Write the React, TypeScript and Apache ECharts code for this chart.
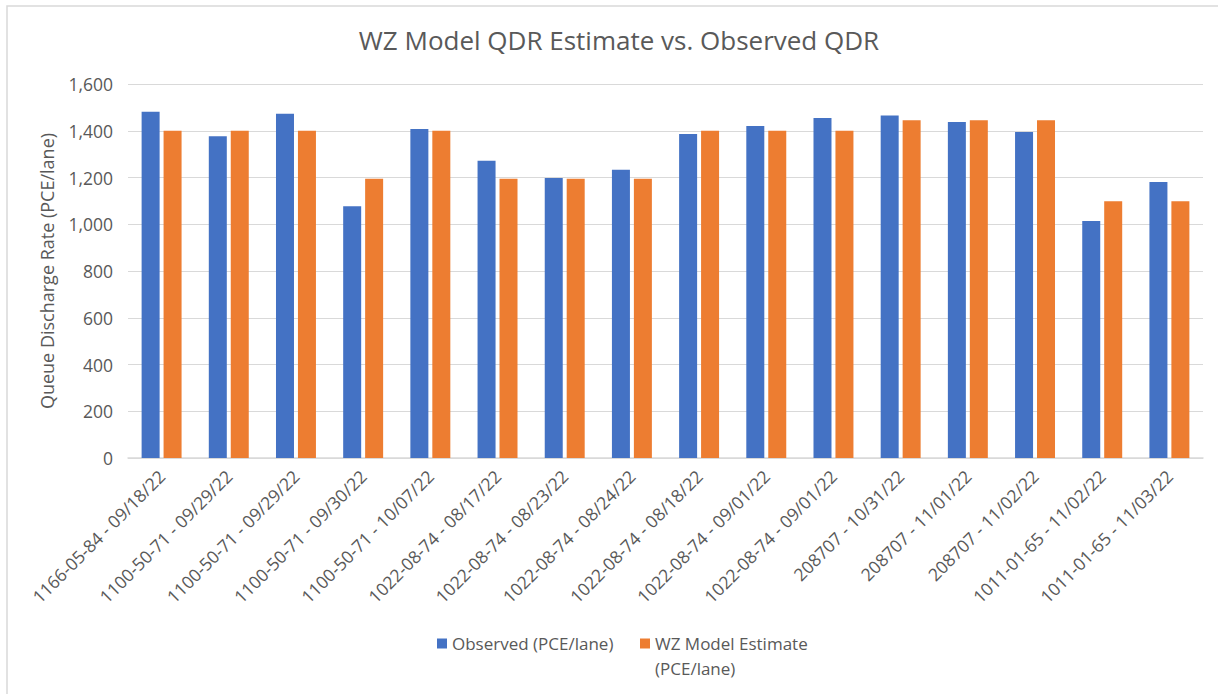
import React, { useEffect, useRef } from "react";
import * as echarts from "echarts";

const categories = [
  "1166-05-84 - 09/18/22",
  "1100-50-71 - 09/29/22",
  "1100-50-71 - 09/29/22",
  "1100-50-71 - 09/30/22",
  "1100-50-71 - 10/07/22",
  "1022-08-74 - 08/17/22",
  "1022-08-74 - 08/23/22",
  "1022-08-74 - 08/24/22",
  "1022-08-74 - 08/18/22",
  "1022-08-74 - 09/01/22",
  "1022-08-74 - 09/01/22",
  "208707 - 10/31/22",
  "208707 - 11/01/22",
  "208707 - 11/02/22",
  "1011-01-65 - 11/02/22",
  "1011-01-65 - 11/03/22",
];

const observed = [1481, 1376, 1473, 1077, 1408, 1272, 1198, 1233, 1386, 1420, 1455, 1465, 1437, 1395, 1014, 1181];
const wzModel = [1400, 1400, 1400, 1195, 1400, 1195, 1195, 1195, 1400, 1400, 1400, 1445, 1445, 1445, 1098, 1098];

const seriesNames = ["Observed (PCE/lane)", "WZ Model Estimate (PCE/lane)"];
const legendLines = ["WZ Model Estimate", "(PCE/lane)"];
const title = "WZ Model QDR Estimate vs. Observed QDR";
const yAxisTitle = "Queue Discharge Rate (PCE/lane)";

const FONT = "'Open Sans', 'Noto Sans', sans-serif";
const GREY = "#595959";

export default function App() {
  const ref = useRef<HTMLDivElement>(null);
  useEffect(() => {
    if (!ref.current) return;
    const chart = echarts.init(ref.current, undefined, { renderer: "svg" });
    chart.setOption({
      animation: false,
      backgroundColor: "#ffffff",
      textStyle: { fontFamily: FONT },
      title: {
        text: title,
        left: 614,
        textAlign: "center",
        top: 22,
        textStyle: { fontFamily: FONT, fontSize: 26, fontWeight: "normal", color: GREY },
      },
      graphic: [
        {
          type: "rect",
          shape: { x: 7, y: 6, width: 1230, height: 710 },
          style: { fill: "none", stroke: "#d9d9d9", lineWidth: 1.5 },
          silent: true,
        },
        {
          type: "text",
          left: 655,
          top: 660,
          style: { text: legendLines[1], fontFamily: FONT, fontSize: 17, fill: GREY },
          silent: true,
        },
      ],
      legend: [
        {
          data: [seriesNames[0]],
          left: 437,
          top: 635,
          itemWidth: 10,
          itemHeight: 10,
          icon: "rect",
          padding: 0,
          textStyle: { fontFamily: FONT, fontSize: 17, color: GREY },
        },
        {
          data: [seriesNames[1]],
          left: 640,
          top: 635,
          itemWidth: 10,
          itemHeight: 10,
          icon: "rect",
          padding: 0,
          formatter: () => legendLines[0],
          textStyle: { fontFamily: FONT, fontSize: 17, color: GREY },
        },
      ],
      grid: { left: 128, right: 15, top: 84, bottom: 236, containLabel: false },
      xAxis: {
        type: "category",
        data: categories,
        axisLine: { lineStyle: { color: "#d9d9d9", width: 1.5 } },
        axisTick: { show: false },
        axisLabel: {
          rotate: 45,
          interval: 0,
          margin: 15,
          fontFamily: FONT,
          fontSize: 17.5,
          color: GREY,
        },
      },
      yAxis: {
        type: "value",
        min: 0,
        max: 1600,
        interval: 200,
        name: yAxisTitle,
        nameLocation: "middle",
        nameGap: 72,
        nameTextStyle: { fontFamily: FONT, fontSize: 18, color: GREY },
        axisLine: { show: false },
        axisTick: { show: false },
        splitLine: { lineStyle: { color: "#d9d9d9", width: 1 } },
        axisLabel: {
          margin: 15,
          fontFamily: FONT,
          fontSize: 17.5,
          color: GREY,
          formatter: (v: number) => v.toLocaleString("en-US"),
        },
      },
      series: [
        {
          name: seriesNames[0],
          type: "bar",
          data: observed,
          barWidth: 18,
          barGap: "22%",
          itemStyle: { color: "#4472C4" },
        },
        {
          name: seriesNames[1],
          type: "bar",
          data: wzModel,
          barWidth: 18,
          barGap: "22%",
          itemStyle: { color: "#ED7D31" },
        },
      ],
    });
    return () => chart.dispose();
  }, []);
  return (
    <div
      ref={ref}
      style={{ position: "fixed", left: 0, top: 0, width: 1218, height: 694 }}
    />
  );
}
